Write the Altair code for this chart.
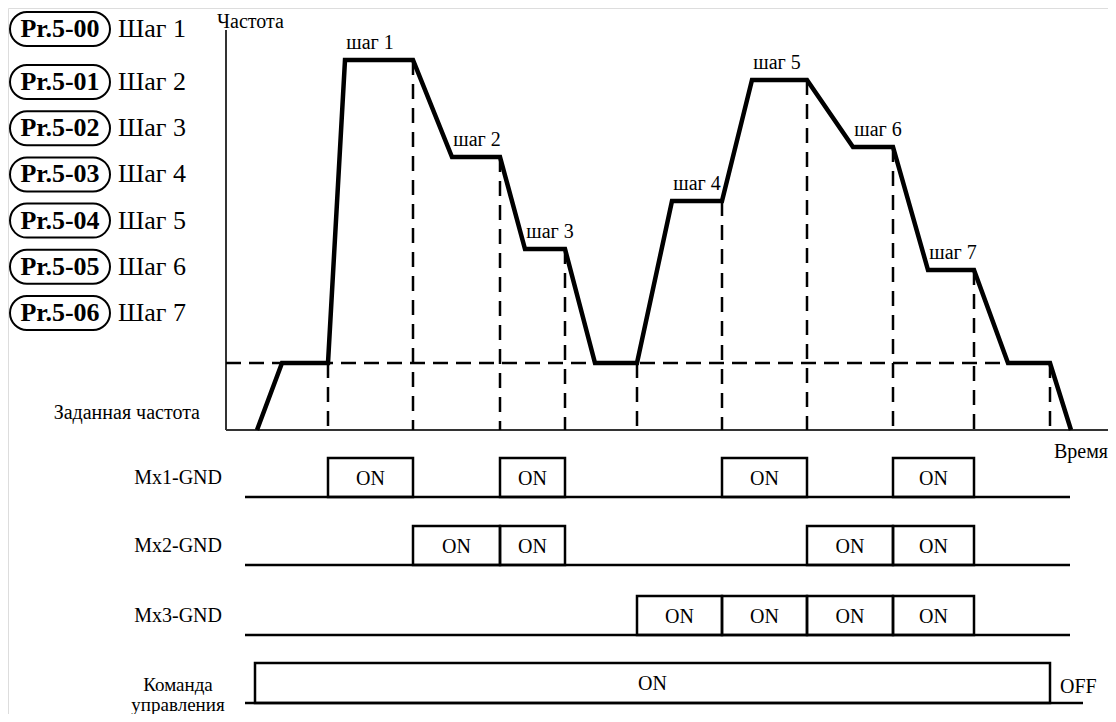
import altair as alt
import pandas as pd

# ---------------- data (time units / frequency units of the schematic) ----------------
curve_t = [31, 56, 102, 119, 187, 226, 274, 299, 339, 369, 411, 446, 496, 526, 581, 627, 667, 702, 748, 782, 824, 845]
curve_f = [0, 67, 67, 370, 370, 273, 273, 181, 181, 67, 67, 229, 229, 350, 350, 283, 283, 160, 160, 67, 67, 0]

master_f = 67
boundary_t = [102, 187, 274, 339, 411, 496, 581, 667, 748, 824]
boundary_top = [67, 370, 273, 181, 67, 229, 350, 283, 160, 67]

step_names = ["шаг 1", "шаг 2", "шаг 3", "шаг 4", "шаг 5", "шаг 6", "шаг 7"]
plateau_start = [119, 226, 299, 446, 526, 627, 702]
plateau_end = [187, 274, 339, 496, 581, 667, 748]
step_level = [370, 273, 181, 229, 350, 283, 160]
step_start = [102, 187, 274, 411, 496, 581, 667]
step_end = [187, 274, 339, 496, 581, 667, 748]

legend_codes = ["Pr.5-00", "Pr.5-01", "Pr.5-02", "Pr.5-03", "Pr.5-04", "Pr.5-05", "Pr.5-06"]
legend_names = ["Шаг 1", "Шаг 2", "Шаг 3", "Шаг 4", "Шаг 5", "Шаг 6", "Шаг 7"]

signal_names = ["Mx1-GND", "Mx2-GND", "Mx3-GND"]
signal_base = [-67, -135, -205]
cmd_base = -273
cmd_on = [29, 824]

# ---------------- helpers ----------------
W, H = 1100, 706
X_DOM = [-218, 882]
Y_DOM = [-284, 422]
FONT = "Liberation Serif"
xs = alt.Scale(domain=X_DOM, nice=False, zero=False)
ys = alt.Scale(domain=Y_DOM, nice=False, zero=False)


def X(f):
    return alt.X(f, type="quantitative", scale=xs, axis=None)


def Y(f):
    return alt.Y(f, type="quantitative", scale=ys, axis=None)


layers = []

# axes
axes_df = pd.DataFrame([
    {"t": 0, "t2": 0, "f": 0, "f2": 400},
    {"t": 0, "t2": 882, "f": 0, "f2": 0},
])
layers.append(alt.Chart(axes_df).mark_rule(color="#333333", strokeWidth=2).encode(
    x=X("t"), x2="t2", y=Y("f"), y2="f2"))

# dashed master frequency line
mdf = pd.DataFrame([{"t": 0, "t2": 782, "f": master_f}])
layers.append(alt.Chart(mdf).mark_rule(color="black", strokeWidth=2.5, strokeDash=[15, 8]).encode(
    x=X("t"), x2="t2", y=Y("f")))

# dashed verticals
vdf = pd.DataFrame({"t": boundary_t, "top": boundary_top, "zero": [0] * len(boundary_t)})
layers.append(alt.Chart(vdf).mark_rule(color="black", strokeWidth=2.5, strokeDash=[15, 9]).encode(
    x=X("t"), y=Y("top"), y2="zero"))

# frequency curve
cdf = pd.DataFrame({"t": curve_t, "f": curve_f, "i": list(range(len(curve_t)))})
layers.append(alt.Chart(cdf).mark_line(color="black", strokeWidth=4.5).encode(
    x=X("t"), y=Y("f"), order="i:Q"))

# step labels
sdf = pd.DataFrame({
    "t": [a + 25 for a in plateau_start],
    "f": [v + 17 for v in step_level],
    "label": step_names,
})
layers.append(alt.Chart(sdf).mark_text(font=FONT, fontSize=20, color="black", baseline="middle").encode(
    x=X("t"), y=Y("f"), text="label:N"))

# signal baselines
bl = [{"t": 19, "t2": 844, "f": b} for b in signal_base] + [{"t": 19, "t2": 857, "f": cmd_base}]
layers.append(alt.Chart(pd.DataFrame(bl)).mark_rule(color="black", strokeWidth=2.5).encode(
    x=X("t"), x2="t2", y=Y("f")))

# pulses from binary step code
pulses = []
for k in range(7):
    code = k + 1
    for bit in range(3):
        if code & (1 << bit):
            pulses.append({"t": step_start[k], "t2": step_end[k],
                           "f": signal_base[bit], "f2": signal_base[bit] + 39, "lab": "ON"})
pulses.append({"t": cmd_on[0], "t2": cmd_on[1], "f": cmd_base, "f2": cmd_base + 40, "lab": "ON"})
pdf = pd.DataFrame(pulses)
pdf["tc"] = (pdf["t"] + pdf["t2"]) / 2
pdf["fc"] = (pdf["f"] + pdf["f2"]) / 2 - 1
layers.append(alt.Chart(pdf).mark_rect(fillOpacity=0, stroke="black", strokeWidth=2.5).encode(
    x=X("t"), x2="t2", y=Y("f"), y2="f2"))
layers.append(alt.Chart(pdf).mark_text(font=FONT, fontSize=20, color="black", baseline="middle").encode(
    x=X("tc"), y=Y("fc"), text="lab:N"))

# signal labels
sl = pd.DataFrame({"t": [-4] * 3, "f": [b + 19 for b in signal_base], "label": signal_names})
layers.append(alt.Chart(sl).mark_text(font=FONT, fontSize=20, color="black", align="right", baseline="middle").encode(
    x=X("t"), y=Y("f"), text="label:N"))

# legend
rows = [430 - 29] + [430 - (82 + 46.2 * (i - 1)) for i in range(1, 7)]
ldf = pd.DataFrame({"code": legend_codes, "name": legend_names, "f": rows})
ldf["f1"] = ldf["f"] - 17
ldf["f2"] = ldf["f"] + 17
ldf["t1"] = -216
ldf["t2"] = -116
ldf["tc"] = -166
ldf["tn"] = -108
layers.append(alt.Chart(ldf).mark_rect(fillOpacity=0, stroke="black", strokeWidth=2, cornerRadius=17).encode(
    x=X("t1"), x2="t2", y=Y("f1"), y2="f2"))
layers.append(alt.Chart(ldf).mark_text(font=FONT, fontSize=26, fontWeight="bold", color="black", baseline="middle").encode(
    x=X("tc"), y=Y("f"), text="code:N"))
layers.append(alt.Chart(ldf).mark_text(font=FONT, fontSize=26, color="black", align="left", baseline="middle").encode(
    x=X("tn"), y=Y("f"), text="name:N"))

# misc texts
misc = pd.DataFrame([
    {"t": -9, "f": 408, "label": "Частота", "a": "left"},
    {"t": 882, "f": -22, "label": "Время", "a": "right"},
    {"t": -26, "f": 17, "label": "Заданная частота", "a": "right"},
    {"t": 834, "f": -257, "label": "OFF", "a": "left"},
])
for a in ["left", "right"]:
    layers.append(alt.Chart(misc[misc["a"] == a]).mark_text(font=FONT, fontSize=20, color="black", align=a, baseline="middle").encode(
        x=X("t"), y=Y("f"), text="label:N"))
cmd = pd.DataFrame([
    {"t": -48, "f": -255, "label": "Команда"},
    {"t": -48, "f": -275, "label": "управления"},
])
layers.append(alt.Chart(cmd).mark_text(font=FONT, fontSize=19, color="black", baseline="middle").encode(
    x=X("t"), y=Y("f"), text="label:N"))

chart = alt.layer(*layers).properties(
    width=W, height=H, autosize=alt.AutoSizeParams(type="none"), padding=0
).configure_view(stroke=None).configure(background="white")

chart.save("out.html", embed_options={"renderer": "svg", "actions": False})
